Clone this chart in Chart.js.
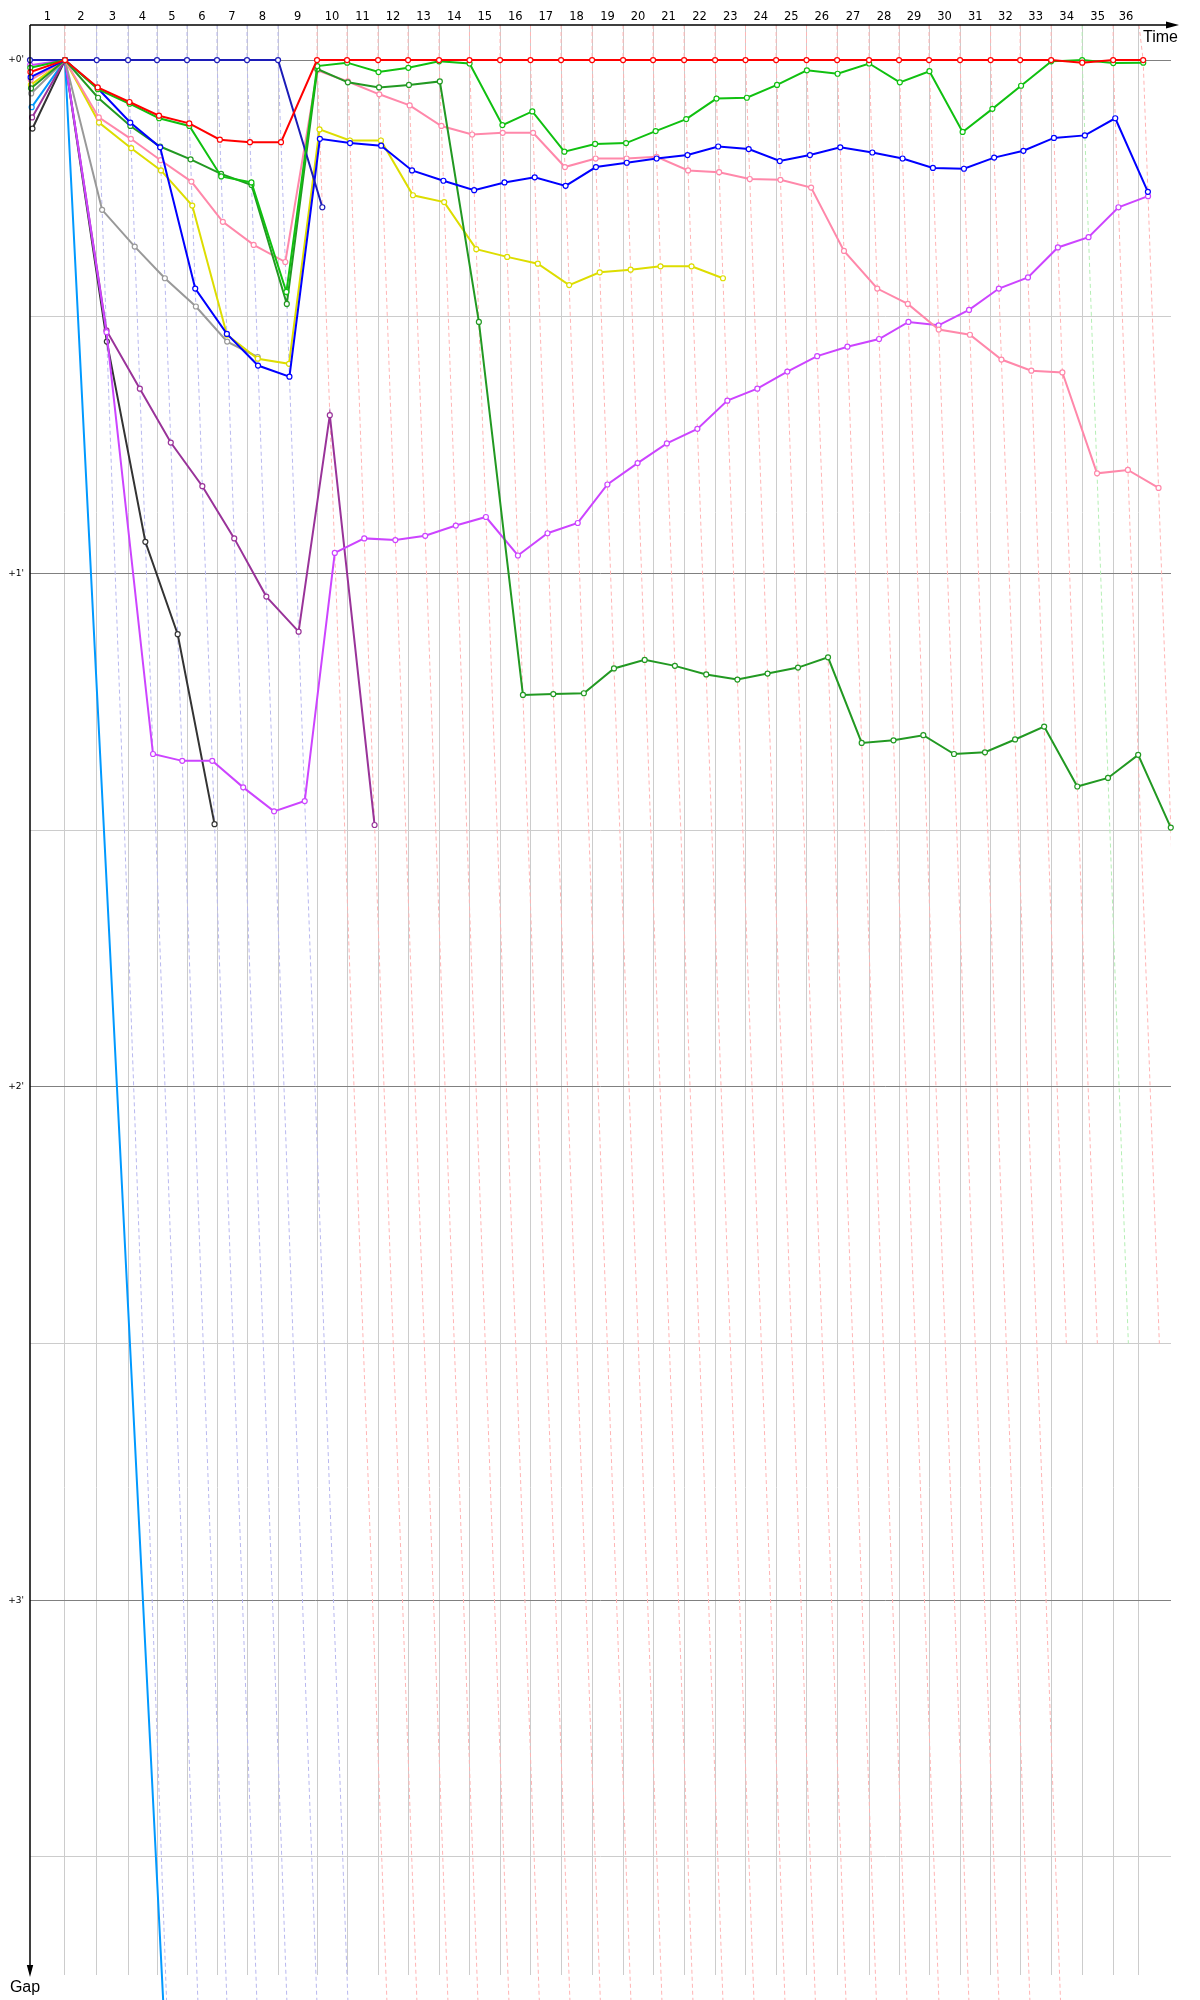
<!DOCTYPE html>
<html>
<head>
<meta charset="utf-8">
<script src="https://cdn.jsdelivr.net/npm/chart.js@4.4.1/dist/chart.umd.min.js"></script>
<style>
  html, body { margin: 0; padding: 0; background: #ffffff; }
  #wrap { width: 1200px; height: 2000px; }
</style>
</head>
<body>
<div id="wrap"><canvas id="gap_chart" width="1200" height="2000"></canvas></div>
<script>
// leader's elapsed time (s) at the end of each lap, index 0 = start
var lapTimes = [0, 113.6, 216.6, 318.2, 412.3, 509.7, 607.1, 704.5, 805.2, 931.8,
    1029.2, 1129.9, 1227.3, 1327.9, 1426.6, 1526.0, 1624.7, 1724.0, 1824.7, 1925.3,
    2022.7, 2123.4, 2224.0, 2322.7, 2422.1, 2520.8, 2620.1, 2723.7, 2821.1, 2918.5,
    3019.2, 3118.5, 3214.3, 3314.9, 3415.6, 3516.2, 3613.6];
var timeLimit = 3600;
// who led at the end of lap 1..36 (colours the lap lines)
var lapLeader = ['red', 'navy', 'navy', 'navy', 'navy', 'navy', 'navy', 'navy',
    'red', 'red', 'red', 'red', 'red', 'red', 'red', 'red', 'red', 'red', 'red', 'red', 'red',
    'red', 'red', 'red', 'red', 'red', 'red', 'red', 'red', 'red', 'red', 'red', 'red',
    'green', 'red', 'red'];
// gap (s) of the last car to complete each lap, laps 1..36 (deeper than the chart = off chart)
var lastCarGap = [0, 260, 260, 260, 260, 260, 260, 260, 260, 260, 260, 260, 260, 260,
    260, 260, 260, 260, 260, 260, 260, 260, 260, 260, 260, 260, 260, 260, 260, 260, 260,
    150, 150, 150, 150, 150];
var gapTicks = [0, 30, 60, 90, 120, 150, 180, 210];
var minuteLabels = ["+0'", "+1'", "+2'", "+3'"];

// gap to the leader (s), one value per lap starting at lap 0
var gapRed = [1.4, 0, 3.2, 4.9, 6.5, 7.4, 9.3, 9.6, 9.6, 0, 0, 0, 0, 0, 0, 0, 0, 0, 0,
    0, 0, 0, 0, 0, 0, 0, 0, 0, 0, 0, 0, 0, 0, 0, 0.3, 0, 0];
var gapGreen = [0.9, 0, 3.4, 5.1, 6.8, 7.7, 13.6, 14.3, 27.1, 0.7, 0.3, 1.4, 0.9, 0.15,
    0.4, 7.6, 6.0, 10.7, 9.8, 9.7, 8.3, 6.9, 4.5, 4.4, 2.9, 1.2, 1.6, 0.4, 2.6, 1.3, 8.4,
    5.7, 3.0, 0.15, 0, 0.35, 0.3];
var gapNavy = [0, 0, 0, 0, 0, 0, 0, 0, 0, 17.2];
var gapBlue = [2.0, 0, 3.3, 7.3, 10.2, 26.7, 32.0, 35.7, 37.0, 9.2, 9.7, 10.0, 12.9, 14.1,
    15.2, 14.3, 13.7, 14.7, 12.5, 12.0, 11.5, 11.1, 10.1, 10.4, 11.8, 11.1, 10.2, 10.8,
    11.5, 12.6, 12.7, 11.4, 10.6, 9.1, 8.8, 6.8, 15.4];
var gapDarkGreen = [3.3, 0, 4.4, 7.7, 10.1, 11.6, 13.3, 14.6, 28.5, 1.05, 2.6, 3.2, 2.9,
    2.5, 30.6, 74.2, 74.1, 74.0, 71.1, 70.1, 70.8, 71.8, 72.4, 71.7, 71.0, 69.8, 79.8,
    79.5, 78.9, 81.1, 80.9, 79.4, 77.9, 84.9, 83.9, 81.2, 89.7];
var gapPink = [2.3, 0, 6.7, 9.2, 11.7, 14.2, 18.9, 21.6, 23.6, 1.2, 2.5, 4.0, 5.3, 7.7,
    8.7, 8.5, 8.5, 12.5, 11.5, 11.5, 11.3, 12.9, 13.1, 13.9, 14.0, 14.9, 22.3, 26.7, 28.5,
    31.5, 32.1, 35.0, 36.3, 36.5, 48.3, 47.9, 50.0];
var gapYellow = [2.9, 0, 7.3, 10.3, 12.9, 17.0, 32.1, 34.9, 35.5, 8.1, 9.4, 9.4, 15.8,
    16.6, 22.1, 23.0, 23.8, 26.3, 24.8, 24.5, 24.1, 24.1, 25.5];
var gapGrey = [3.9, 0, 17.5, 21.8, 25.5, 28.8, 32.9, 34.7];
var gapMagenta = [0.6, 0, 31.8, 81.1, 81.9, 81.9, 85.0, 87.8, 86.6, 57.6, 55.9, 56.1,
    55.6, 54.4, 53.4, 57.9, 55.3, 54.1, 49.6, 47.1, 44.8, 43.1, 39.8, 38.4, 36.4, 34.6,
    33.5, 32.6, 30.6, 31.0, 29.2, 26.7, 25.4, 21.9, 20.7, 17.2, 15.9];
var gapPurple = [6.7, 0, 31.6, 38.4, 44.7, 49.8, 55.9, 62.7, 66.8, 41.5, 89.4];
var gapBlack = [8.0, 0, 32.9, 56.3, 67.1, 89.3];
var gapCyan = [5.5, 0, 254];

document.addEventListener("DOMContentLoaded", function() {

    var yMin = -4.1, yMax = 223.8;

    var drivers = [
        { gaps: gapRed, color: '#ff0000' },
        { gaps: gapGreen, color: '#10c010' },
        { gaps: gapNavy, color: '#1c1cb8' },
        { gaps: gapBlue, color: '#0000ff' },
        { gaps: gapDarkGreen, color: '#229922' },
        { gaps: gapPink, color: '#ff88aa' },
        { gaps: gapYellow, color: '#dddd00' },
        { gaps: gapGrey, color: '#999999' },
        { gaps: gapMagenta, color: '#cc44ff' },
        { gaps: gapPurple, color: '#993399' },
        { gaps: gapBlack, color: '#333333' },
        { gaps: gapCyan, color: '#0099ff' }
    ];
    var lapLineColors = { navy: '#b8b8ef', red: '#ffb4b4', green: '#b4eeb4' };

    var datasets = drivers.map(function(d) {
        return {
            // a driver crosses the line "gap" seconds after the leader
            data: d.gaps.map(function(g, lap) { return { x: lapTimes[lap] + g, y: g }; }),
            borderColor: d.color,
            borderWidth: 2,
            tension: 0,
            fill: false,
            pointRadius: 2.5,
            pointBorderWidth: 1.2,
            pointBackgroundColor: '#ffffff',
            pointBorderColor: d.color,
            clip: false,
            order: 0
        };
    });

    // dashed lap lines: every driver's point for lap N sits on it
    for (var n = 1; n < lapTimes.length; n++) {
        var t = lapTimes[n];
        var top = (n === lapTimes.length - 1) ? timeLimit : t;
        var depth = lastCarGap[n - 1];
        var pts = [{ x: top, y: yMin }, { x: t, y: 0 }];
        if (depth > 0) pts.push({ x: t + depth, y: depth });
        datasets.push({
            data: pts,
            borderColor: lapLineColors[lapLeader[n - 1]],
            borderWidth: 1,
            borderDash: [4, 3],
            pointRadius: 0,
            tension: 0,
            fill: false,
            clip: { left: false, top: false, right: 0, bottom: false },
            order: 1
        });
    }

    var gridTimes = lapTimes.slice(1, lapTimes.length - 1).concat([timeLimit]);

    var axesPlugin = {
        id: 'gapAxes',
        afterDraw: function(chart) {
            var c = chart.ctx, xs = chart.scales.x, ys = chart.scales.y, area = chart.chartArea;
            c.save();
            c.fillStyle = '#000000';

            // lap numbers between the lap grid lines
            c.font = '11.5px "DejaVu Sans"';
            c.textAlign = 'center';
            c.textBaseline = 'middle';
            for (var i = 1; i < lapTimes.length; i++) {
                var a = lapTimes[i - 1];
                var b = (i === lapTimes.length - 1) ? timeLimit : lapTimes[i];
                c.fillText(String(i), (xs.getPixelForValue(a) + xs.getPixelForValue(b)) / 2, 17.5);
            }

            // minute labels
            c.font = '9px "DejaVu Sans"';
            c.textAlign = 'right';
            minuteLabels.forEach(function(txt, k) {
                c.fillText(txt, area.left - 6, ys.getPixelForValue(k * 60));
            });

            // axes with arrows
            c.strokeStyle = '#000000';
            c.lineWidth = 1.5;
            c.beginPath();
            c.moveTo(area.left, area.top);
            c.lineTo(area.right + 2, area.top);
            c.moveTo(area.left, area.top);
            c.lineTo(area.left, area.bottom - 4);
            c.stroke();

            c.beginPath();
            c.moveTo(area.right + 8, area.top);
            c.lineTo(area.right - 5, area.top - 3.5);
            c.lineTo(area.right - 5, area.top + 3.5);
            c.closePath();
            c.fill();

            c.beginPath();
            c.moveTo(area.left, area.bottom + 2);
            c.lineTo(area.left - 3.2, area.bottom - 10);
            c.lineTo(area.left + 3.2, area.bottom - 10);
            c.closePath();
            c.fill();

            c.font = '16px "Liberation Sans"';
            c.textBaseline = 'alphabetic';
            c.textAlign = 'left';
            c.fillText('Time', area.right - 28, 42);
            c.textAlign = 'center';
            c.fillText('Gap', area.left - 5, 1992);
            c.restore();
        }
    };

    var ctx = document.getElementById('gap_chart').getContext('2d');
    var gapChart = new Chart(ctx, {
        type: 'line',
        data: { datasets: datasets },
        options: {
            responsive: false,
            animation: false,
            devicePixelRatio: 1,
            events: [],
            layout: { autoPadding: false, padding: { left: 30, top: 25, right: 29, bottom: 25 } },
            plugins: { legend: { display: false }, tooltip: { enabled: false } },
            scales: {
                x: {
                    type: 'linear',
                    position: 'top',
                    min: 0,
                    max: 3704,
                    afterBuildTicks: function(s) { s.ticks = gridTimes.map(function(v) { return { value: v }; }); },
                    afterFit: function(s) { s.height = 0; },
                    ticks: { display: false },
                    border: { display: false },
                    grid: { color: '#cccccc', lineWidth: 1, drawTicks: false }
                },
                y: {
                    type: 'linear',
                    reverse: true,
                    min: yMin,
                    max: yMax,
                    afterBuildTicks: function(s) { s.ticks = gapTicks.map(function(v) { return { value: v }; }); },
                    afterFit: function(s) { s.width = 0; },
                    ticks: { display: false },
                    border: { display: false },
                    grid: {
                        lineWidth: 1,
                        drawTicks: false,
                        color: function(c) { return (c.tick && c.tick.value % 60 === 0) ? '#808080' : '#cccccc'; }
                    }
                }
            }
        },
        plugins: [axesPlugin]
    });
});
</script>
</body>
</html>
